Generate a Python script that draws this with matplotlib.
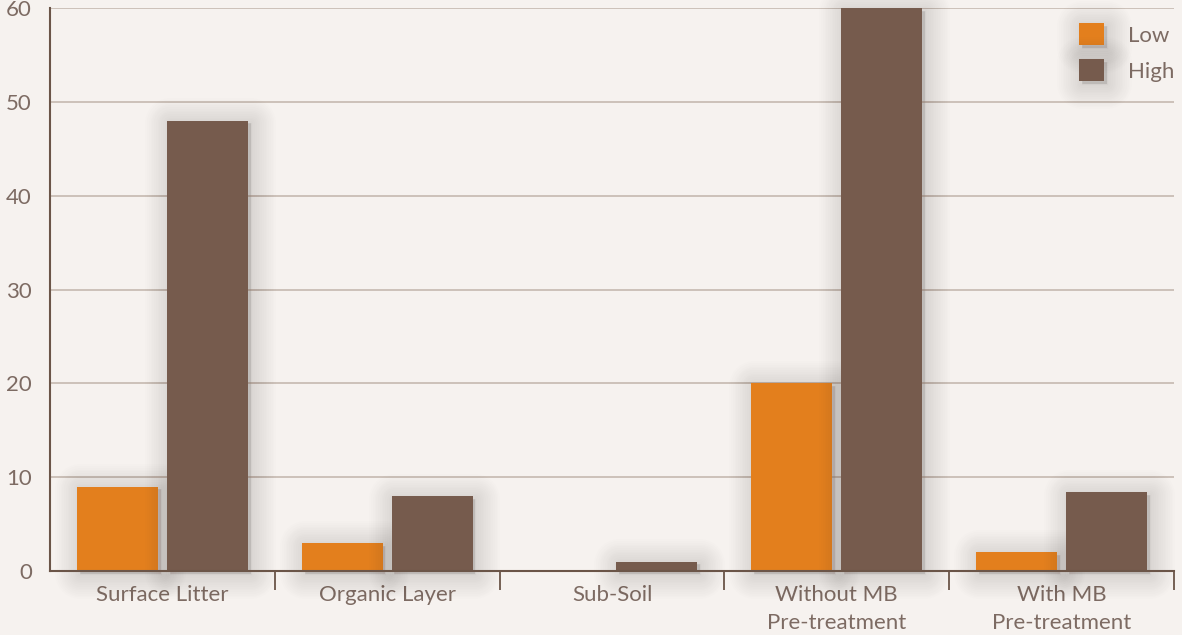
import matplotlib
matplotlib.use("Agg")
import matplotlib.pyplot as plt
import matplotlib.patheffects as pe
import numpy as np

categories = ["Surface Litter", "Organic Layer", "Sub-Soil", "Without MB\nPre-treatment", "With MB\nPre-treatment"]
low = [9, 3, 0, 20, 2]
high = [48, 8, 1, 60, 8.4]
series_names = ["Low", "High"]
y_ticks = [0, 10, 20, 30, 40, 50, 60]

bg = "#f6f2ef"
c_low = "#e37f1d"
c_high = "#765b4d"
grid_c = "#c9bdb5"
axis_c = "#6b5548"
text_c = "#7d6b63"

plt.rcParams['font.family'] = ['Lato', 'DejaVu Sans']


def soft_shadow():
    # stacked translucent round-joined strokes give a blurred drop shadow
    fx = []
    for lw in np.linspace(36, 3, 14):
        fx.append(pe.SimplePatchShadow(offset=(2, -2), shadow_rgbFace="#3a2a20",
                                       alpha=0.008, linewidth=lw, foreground="#3a2a20",
                                       joinstyle="round"))
    fx.append(pe.Normal())
    return fx


fig = plt.figure(figsize=(11.82, 6.35), dpi=100, facecolor=bg)
ax = fig.add_axes([50 / 1182, 1 - 571 / 635, 1124 / 1182, 563 / 635])
ax.set_facecolor(bg)

x = np.arange(len(categories))
w = 0.36
b1 = ax.bar(x - 0.2, low, w, color=c_low, label=series_names[0], zorder=3, clip_on=False)
b2 = ax.bar(x + 0.2, high, w, color=c_high, label=series_names[1], zorder=3, clip_on=False)
for b in list(b1) + list(b2):
    if b.get_height() > 0:
        b.set_path_effects(soft_shadow())
    else:
        b.set_visible(False)

ax.set_xlim(-0.5, len(categories) - 0.5)
ax.set_ylim(0, 60)
ax.set_yticks(y_ticks)
ax.yaxis.grid(True, color=grid_c, linewidth=1.3, zorder=0)
ax.set_axisbelow(True)
ax.tick_params(axis="y", length=0, pad=13, labelsize=16, labelcolor=text_c)

ax.set_xticks(x)
ax.set_xticklabels(categories, linespacing=1.5)
ax.set_xticks(np.arange(len(categories)) + 0.5, minor=True)
ax.tick_params(axis="x", which="major", length=0, pad=10, labelsize=16, labelcolor=text_c)
ax.tick_params(axis="x", which="minor", length=14, width=1.3, color=axis_c, direction="out")

for s in ["top", "right"]:
    ax.spines[s].set_visible(False)
for s in ["left", "bottom"]:
    ax.spines[s].set_color(axis_c)
    ax.spines[s].set_linewidth(1.5)
    ax.spines[s].set_zorder(4)

leg = ax.legend(loc="upper right", frameon=False, fontsize=16, labelcolor=text_c,
                handlelength=1.15, handleheight=1.15, handletextpad=1.05, labelspacing=0.62,
                borderpad=0, borderaxespad=0, bbox_to_anchor=(1.0, 1 - 15 / 563))
for p in leg.get_patches():
    p.set_path_effects(soft_shadow())

fig.savefig("out.png", dpi=100, facecolor=bg)
